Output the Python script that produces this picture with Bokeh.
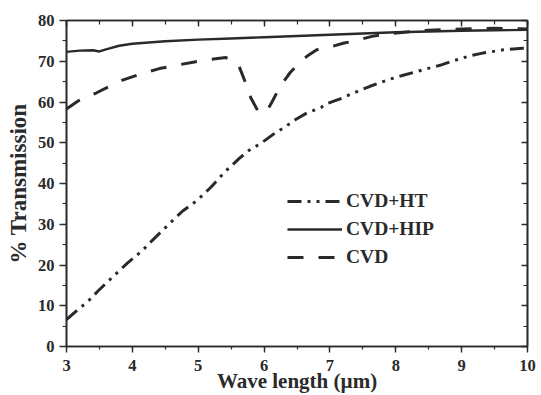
from bokeh.plotting import figure
from bokeh.models import (Range1d, LinearAxis, SingleIntervalTicker, Legend, LegendItem,
                          CustomJSTickFormatter)
from bokeh.embed import file_html
from bokeh.resources import INLINE

# Wavelength (um) and % transmission for the three processing routes
x_ht = [3.0, 3.19, 3.31, 3.49, 3.69, 3.92, 4.15, 4.3, 4.58, 4.76, 4.98, 5.2, 5.4,
        5.62, 5.8, 5.93, 6.16, 6.31, 6.48, 6.64, 6.87, 6.95, 7.18, 7.33, 7.6, 7.91,
        8.1, 8.48, 8.67, 8.85, 9.12, 9.32, 9.63, 9.93, 10.0]
y_ht = [6.6, 9.3, 10.8, 13.8, 16.9, 20.4, 23.5, 26.0, 30.4, 33.2, 35.8, 39.2, 42.8,
        46.1, 48.5, 49.6, 52.3, 53.8, 55.7, 57.2, 58.7, 59.6, 60.9, 62.0, 63.8, 65.6,
        66.5, 68.2, 69.0, 70.0, 71.3, 72.0, 72.8, 73.2, 73.2]

x_hip = [3.0, 3.2, 3.4, 3.5, 3.6, 3.8, 4.0, 4.5, 5.0, 5.5, 6.0, 6.5, 7.0, 7.5, 8.0,
         8.5, 9.0, 9.5, 10.0]
y_hip = [72.3, 72.6, 72.7, 72.4, 72.9, 73.8, 74.3, 74.9, 75.3, 75.6, 75.9, 76.2,
         76.5, 76.8, 77.1, 77.3, 77.5, 77.6, 77.7]

x_cvd = [3.0, 3.17, 3.45, 3.67, 3.84, 4.15, 4.41, 4.66, 4.9, 5.2, 5.42, 5.55, 5.62,
         5.7, 5.8, 5.9, 5.97, 6.05, 6.12, 6.25, 6.4, 6.55, 6.65, 6.8, 7.0, 7.2, 7.4,
         7.64, 7.9, 8.5, 9.0, 9.5, 10.0]
y_cvd = [58.3, 60.2, 62.2, 64.0, 65.3, 67.0, 68.2, 69.0, 69.7, 70.5, 70.9, 70.0, 68.8,
         65.5, 61.0, 58.0, 57.2, 58.0, 60.0, 64.0, 67.3, 69.8, 71.2, 72.8, 73.5, 74.4,
         75.1, 76.1, 76.8, 77.6, 77.9, 78.1, 77.9]

series_names = ["CVD+HT", "CVD+HIP", "CVD"]
x_title = "Wave length (\u00b5m)"
y_title = "% Transmission"

INK = "#2a2a2a"
FONT = "Liberation Serif"

p = figure(width=541, height=395, output_backend="svg", toolbar_location=None,
           x_range=Range1d(3, 10), y_range=Range1d(0, 80),
           min_border_left=66, min_border_right=14, min_border_top=20,
           min_border_bottom=49)
p.background_fill_color = "white"
p.border_fill_color = "white"
p.outline_line_color = INK
p.outline_line_width = 1.6
p.xgrid.visible = False
p.ygrid.visible = False

r_ht = p.line(x_ht, y_ht, line_color=INK, line_width=3, line_dash="14 6 3 6 3 6")
r_hip = p.line(x_hip, y_hip, line_color=INK, line_width=2.4)
r_cvd = p.line(x_cvd, y_cvd, line_color=INK, line_width=3, line_dash="16 15")


def style_axis(ax):
    ax.axis_line_color = INK
    ax.axis_line_width = 1.6
    ax.major_tick_line_color = INK
    ax.minor_tick_line_color = INK
    ax.major_tick_line_width = 1.4
    ax.minor_tick_line_width = 1.2
    ax.major_label_text_font = FONT
    ax.major_label_text_font_style = "bold"
    ax.major_label_text_color = INK
    ax.major_label_text_font_size = "16.5px"
    ax.axis_label_text_font = FONT
    ax.axis_label_text_font_style = "bold"
    ax.axis_label_text_color = INK


xb = p.xaxis[0]
xb.ticker = SingleIntervalTicker(interval=1, num_minor_ticks=2)
xb.axis_label = x_title
style_axis(xb)
xb.axis_label_text_font_size = "21px"
xb.major_tick_out = 6
xb.major_tick_in = 0
xb.minor_tick_out = 3
xb.minor_tick_in = 0
xb.major_label_standoff = 7
xb.axis_label_standoff = -5

yl = p.yaxis[0]
yl.ticker = SingleIntervalTicker(interval=10, num_minor_ticks=2)
yl.axis_label = y_title
style_axis(yl)
yl.axis_label_text_font_size = "23px"
yl.major_tick_out = 7
yl.major_tick_in = 0
yl.minor_tick_out = 4
yl.minor_tick_in = 0
yl.major_label_standoff = 5
yl.axis_label_standoff = 4

# frame-side axes: inward ticks only, no tick labels
blank = CustomJSTickFormatter(code="return ''")

xt = LinearAxis(ticker=SingleIntervalTicker(interval=1, num_minor_ticks=2),
                formatter=blank)
style_axis(xt)
xt.major_label_text_font_size = "0px"
xt.major_tick_in = 6
xt.major_tick_out = 0
xt.minor_tick_in = 4
xt.minor_tick_out = 0
xt.major_label_standoff = 0
p.add_layout(xt, "above")

yr = LinearAxis(ticker=SingleIntervalTicker(interval=10, num_minor_ticks=2),
                formatter=blank)
style_axis(yr)
yr.major_label_text_font_size = "0px"
yr.major_tick_in = 6
yr.major_tick_out = 0
yr.minor_tick_in = 4
yr.minor_tick_out = 0
yr.major_label_standoff = 0
p.add_layout(yr, "right")

legend = Legend(items=[LegendItem(label=series_names[0], renderers=[r_ht]),
                       LegendItem(label=series_names[1], renderers=[r_hip]),
                       LegendItem(label=series_names[2], renderers=[r_cvd])],
                location=(221, 78), orientation="vertical")
legend.background_fill_alpha = 0
legend.border_line_color = None
legend.padding = 0
legend.margin = 0
legend.spacing = 6
legend.glyph_width = 55
legend.glyph_height = 20
legend.label_height = 20
legend.label_standoff = 4
legend.label_text_font = FONT
legend.label_text_font_style = "bold"
legend.label_text_font_size = "19.5px"
legend.label_text_color = INK
p.add_layout(legend, "center")

open("out.html", "w").write(file_html(p, INLINE))
